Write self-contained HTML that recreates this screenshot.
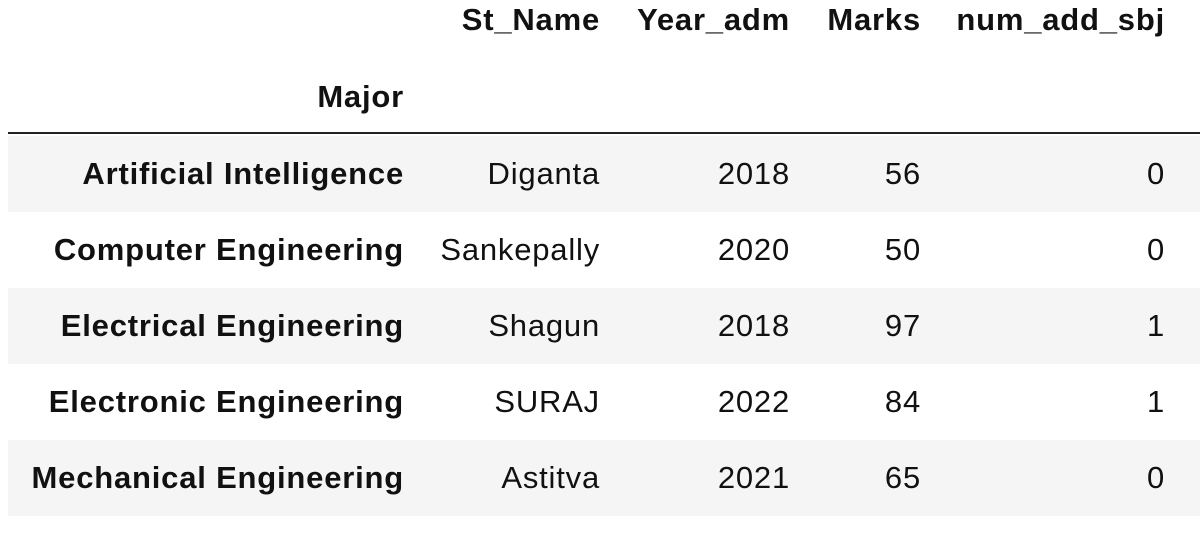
<!DOCTYPE html>
<html><head><meta charset="utf-8"><style>
body{margin:0;width:1200px;height:535px;background:#fff;position:relative;overflow:hidden;font-family:"Liberation Sans",Arial,sans-serif;color:#111}
.r{position:absolute;left:8px;width:1192px;height:76px}
.g{background:#f5f5f5}
.t{position:absolute;font-size:31px;letter-spacing:0.8px;line-height:34px;text-align:right;white-space:nowrap}
.b{font-weight:bold}
</style></head><body>
<div class="t b" style="right:600px;top:3px">St_Name</div>
<div class="t b" style="right:410px;top:3px">Year_adm</div>
<div class="t b" style="right:279px;top:3px">Marks</div>
<div class="t b" style="right:35px;top:3px">num_add_sbj</div>
<div class="t b" style="right:796px;top:80px">Major</div>
<div style="position:absolute;left:8px;top:132px;width:1192px;height:2px;background:#222"></div>
<div id="rows"></div>
<script>
const majors=["Artificial Intelligence","Computer Engineering","Electrical Engineering","Electronic Engineering","Mechanical Engineering"];
const names=["Diganta","Sankepally","Shagun","SURAJ","Astitva"];
const years=[2018,2020,2018,2022,2021];
const marks=[56,50,97,84,65];
const addSbj=[0,0,1,1,0];
const host=document.getElementById('rows');
majors.forEach((m,i)=>{
  const top=136+i*76;
  const row=document.createElement('div');
  row.className='r'+(i%2===0?' g':'');
  row.style.top=top+'px';
  
  
  host.appendChild(row);
  const cells=[[m,796,true,'row-major'],[names[i],600,false,'cell-st-name'],[years[i],410,false,'cell-year-adm'],[marks[i],279,false,'cell-marks'],[addSbj[i],35,false,'cell-num-add-sbj']];
  cells.forEach(c=>{
    const d=document.createElement('div');
    d.className='t'+(c[2]?' b':'');
    d.style.right=c[1]+'px';
    d.style.top=(top+21)+'px';
    d.textContent=c[0];
    
    
    host.appendChild(d);
  });
});
</script>
</body></html>
